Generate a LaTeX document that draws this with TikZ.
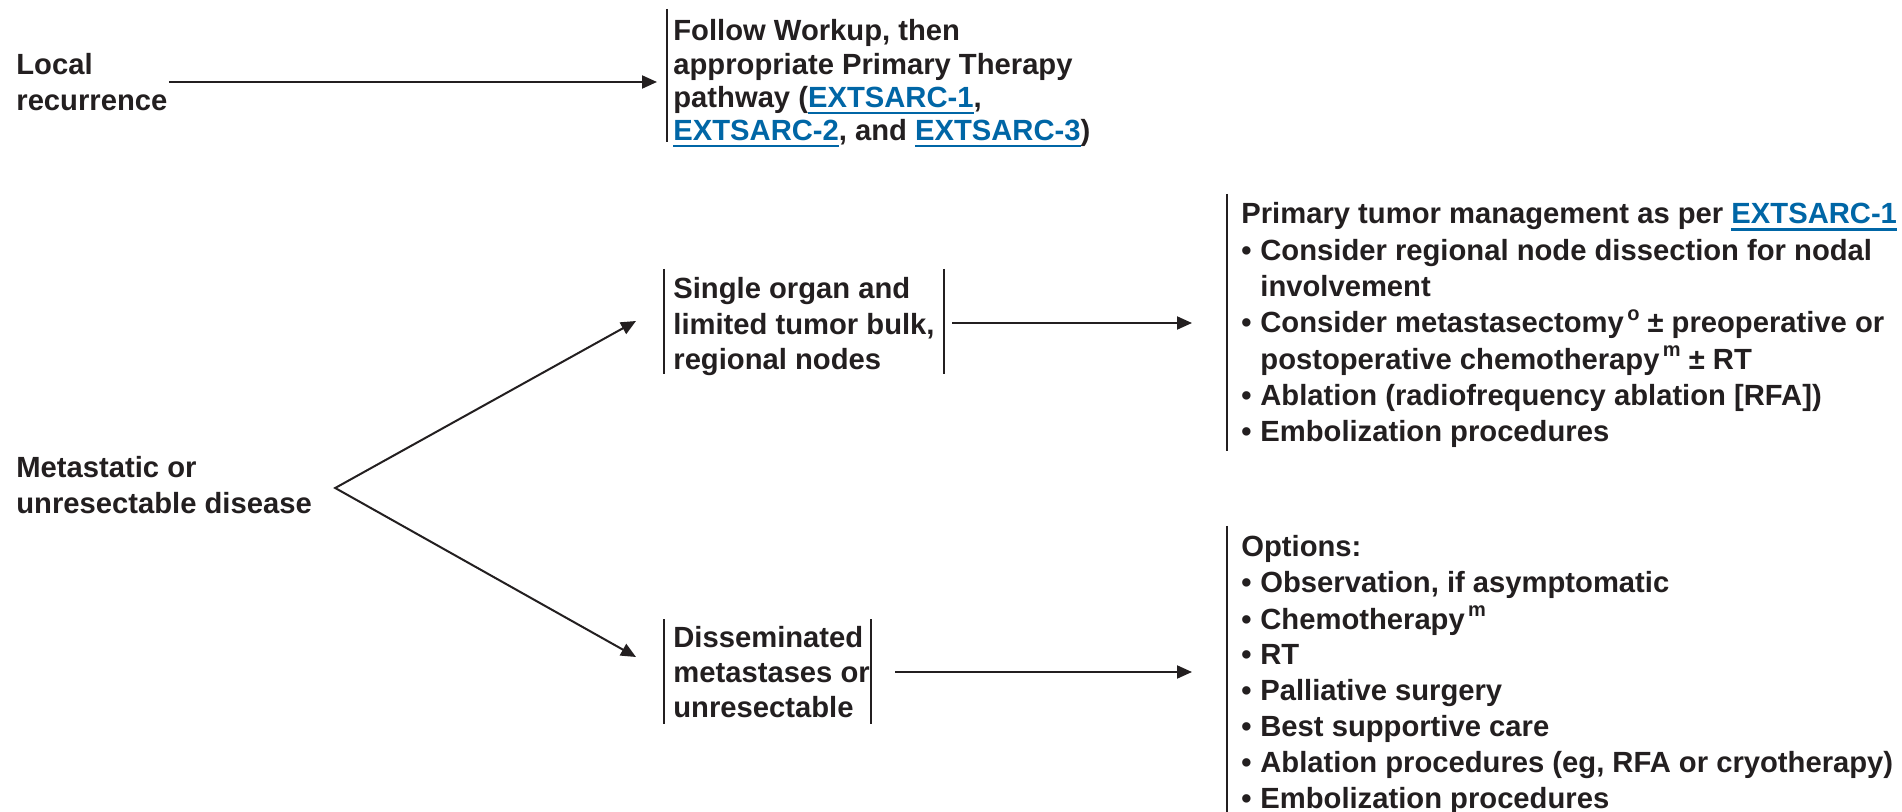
\documentclass[tikz,border=0pt]{standalone}
\usepackage{fontspec}
\setmainfont{Liberation Sans}
\usetikzlibrary{arrows.meta}

\definecolor{ink}{HTML}{231F20}
\definecolor{linkblue}{RGB}{0,102,166}

% underlined cross-reference
\newcommand\lnk[1]{\textcolor{linkblue}{\setbox0\hbox{#1}\rlap{\rule[-3.3pt]{\wd0}{1.2pt}}\box0}}
% bullet and hanging indent
\newcommand\bul{\makebox[9.5pt][l]{•}}
\newcommand\hang{\hspace*{9.5pt}}
% footnote letter
\newcommand\sups[1]{\smash{\raisebox{6.2pt}{\fontsize{10pt}{10pt}\selectfont\,#1}}}
% text block whose reference point is the first baseline
\newcommand\block[2]{\fontsize{14.6pt}{#1}\selectfont\begin{tabular}[t]{@{}l@{}}#2\end{tabular}}

\begin{document}
\begin{tikzpicture}[x=0.5pt,y=-0.5pt,
  >={Triangle[length=7.5pt,width=6.5pt]},
  txt/.style={inner sep=0pt, anchor=base west, text=ink, font=\bfseries},
  arr/.style={line width=1pt, draw=ink, ->},
  twoarr/.style={line width=1pt, draw=ink, line join=miter, <->},
  bar/.style={line width=1.1pt, draw=ink}]

\fill[white] (0,0) rectangle (1902,812);
\useasboundingbox (0,0) rectangle (1902,812);

% ---- local recurrence ----
\node[txt] (local) at (16,75) {\block{18pt}{Local\\recurrence}};
\node[txt] (follow) at (673,41) {\block{16.6pt}{Follow Workup, then\\appropriate Primary Therapy\\pathway (\lnk{EXTSARC-1},\\\lnk{EXTSARC-2}, and \lnk{EXTSARC-3})}};
\draw[bar] ([xshift=-3pt,yshift=16pt]follow.base west) -- ([xshift=-3pt,yshift=-50.5pt]follow.base west);
\coordinate (a1) at ([xshift=0.5pt,yshift=-3.5pt]local.base east);
\draw[arr, shorten >=8pt] (a1) -- (a1 -| follow.base west);

% ---- metastatic disease ----
\node[txt] (met) at (16,478) {\block{18pt}{Metastatic or\\unresectable disease}};
\coordinate (fork) at ([xshift=11.5pt,yshift=-5pt]met.base east);

\node[txt] (mid1) at (673,299) {\block{17.75pt}{Single organ and\\limited tumor bulk,\\regional nodes}};
\draw[bar] ([xshift=-4.5pt,yshift=15pt]mid1.base west) -- ([xshift=-4.5pt,yshift=-37.5pt]mid1.base west);
\draw[bar] ([xshift=135.5pt,yshift=15pt]mid1.base west) -- ([xshift=135.5pt,yshift=-37.5pt]mid1.base west);

\node[txt] (mid2) at (673,647) {\block{17.5pt}{Disseminated\\metastases or\\unresectable}};
\draw[bar] ([xshift=-4.5pt,yshift=14pt]mid2.base west) -- ([xshift=-4.5pt,yshift=-38.5pt]mid2.base west);
\draw[bar] ([xshift=99pt,yshift=14pt]mid2.base west) -- ([xshift=99pt,yshift=-38.5pt]mid2.base west);

\draw[twoarr] ([xshift=-18.5pt,yshift=-11pt]mid1.base west) -- (fork) -- ([xshift=-18.5pt,yshift=-5pt]mid2.base west);

% ---- treatment options ----
\node[txt] (r1) at (1241,224) {\block{18.15pt}{Primary tumor management as per \lnk{EXTSARC-1}\\
\bul Consider regional node dissection for nodal\\
\hang involvement\\
\bul Consider metastasectomy\sups{o} ± preoperative or\\
\hang postoperative chemotherapy\sups{m} ± RT\\
\bul Ablation (radiofrequency ablation [RFA])\\
\bul Embolization procedures}};
\draw[bar] ([xshift=-7pt,yshift=15pt]r1.base west) -- ([xshift=-7pt,yshift=-113.5pt]r1.base west);

\node[txt] (r2) at (1241,557) {\block{18pt}{Options:\\
\bul Observation, if asymptomatic\\
\bul Chemotherapy\sups{m}\\
\bul RT\\
\bul Palliative surgery\\
\bul Best supportive care\\
\bul Ablation procedures (eg, RFA or cryotherapy)\\
\bul Embolization procedures}};
\draw[bar] ([xshift=-7pt,yshift=15.5pt]r2.base west) -- ([xshift=-7pt,yshift=-129pt]r2.base west);

\coordinate (s1) at ([xshift=139.5pt,yshift=-12pt]mid1.base west);
\draw[arr, shorten >=24.5pt] (s1) -- (s1 -| r1.base west);
\coordinate (s2) at ([xshift=111pt,yshift=-12.5pt]mid2.base west);
\draw[arr, shorten >=24.5pt] (s2) -- (s2 -| r2.base west);

\end{tikzpicture}
\end{document}
